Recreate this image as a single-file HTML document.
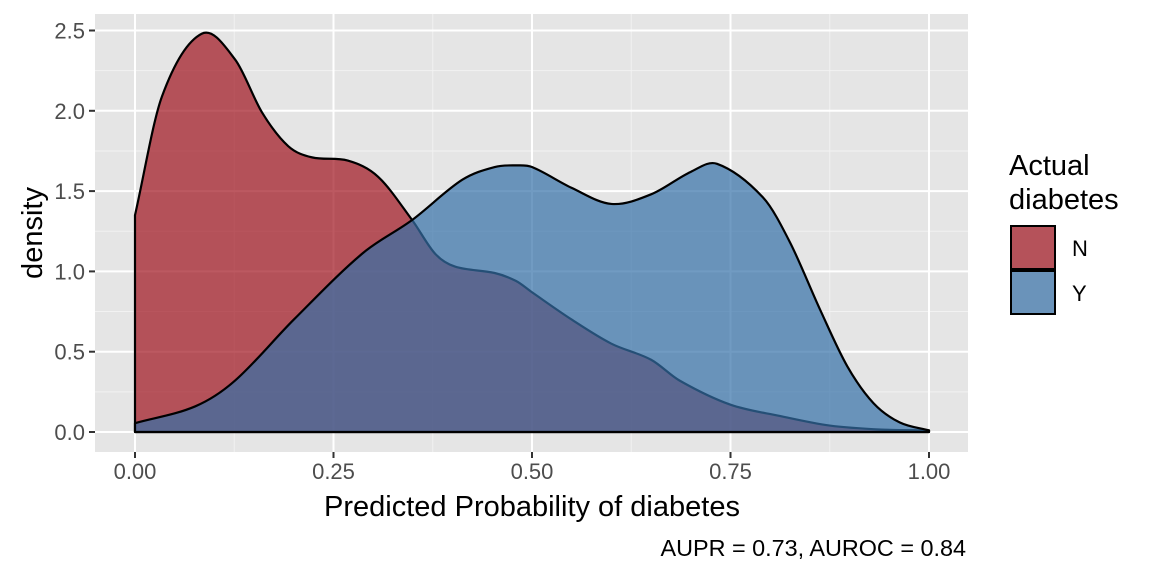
<!DOCTYPE html>
<html><head><meta charset="utf-8"><style>
body{margin:0;background:#fff;}
svg text{font-family:"Liberation Sans",Arial,sans-serif;}
</style></head><body>
<svg id="chart" width="1152" height="576" xmlns="http://www.w3.org/2000/svg">
<rect x="95" y="14" width="873" height="438" fill="#E5E5E5"/>
<g id="grid"></g>
<g id="areas"></g>
<g id="axes"></g>
<text x="532" y="516" font-size="29" text-anchor="middle" fill="#000">Predicted Probability of diabetes</text>
<text transform="translate(42,233) rotate(-90)" font-size="29" text-anchor="middle" fill="#000">density</text>
<text x="966" y="556" font-size="23.4" text-anchor="end" fill="#000">AUPR = 0.73, AUROC = 0.84</text>
<g>
<text x="1009" y="175" font-size="29">Actual</text>
<text x="1009" y="209" font-size="29">diabetes</text>
<rect x="1011" y="226" width="44" height="43" fill="rgb(181,82,90)" stroke="#000" stroke-width="2"/>
<rect x="1011" y="271" width="44" height="43" fill="rgb(106,147,186)" stroke="#000" stroke-width="2"/>
<text x="1072" y="256" font-size="22">N</text>
<text x="1072" y="301" font-size="22">Y</text>
</g>
</svg>
<script>
const xsN = [0,0.034,0.084,0.126,0.16,0.193,0.223,0.268,0.306,0.349,0.378,0.403,0.453,0.48,0.5,0.55,0.6,0.65,0.686,0.75,0.812,0.875,0.94,1.0];
const ysN = [1.35,2.09,2.48,2.32,1.99,1.78,1.71,1.69,1.59,1.32,1.11,1.03,0.99,0.94,0.87,0.7,0.55,0.45,0.32,0.17,0.1,0.04,0.015,0.01];
const xsY = [0,0.076,0.126,0.2,0.286,0.349,0.412,0.453,0.48,0.5,0.55,0.6,0.65,0.7,0.733,0.791,0.825,0.863,0.897,0.93,0.963,1.0];
const ysY = [0.055,0.16,0.32,0.7,1.11,1.32,1.57,1.65,1.66,1.65,1.52,1.42,1.48,1.62,1.67,1.46,1.18,0.76,0.41,0.18,0.06,0.01];
const xTicks = [0,0.25,0.5,0.75,1];
const xTickLabels = ["0.00","0.25","0.50","0.75","1.00"];
const yTicks = [0,0.5,1,1.5,2,2.5];
const yTickLabels = ["0.0","0.5","1.0","1.5","2.0","2.5"];
const X = v => 135 + v*794;
const Y = v => 432 - v*160.6;
const NS = "http://www.w3.org/2000/svg";
function mk(tag, attrs, parent){const e=document.createElementNS(NS,tag);for(const k in attrs)e.setAttribute(k,attrs[k]);parent.appendChild(e);return e;}
const grid=document.getElementById('grid'), areas=document.getElementById('areas'), axes=document.getElementById('axes');
for(let i=0;i<xTicks.length-1;i++){const m=(xTicks[i]+xTicks[i+1])/2;
 const l=mk('line',{x1:X(m),x2:X(m),y1:14,y2:452,stroke:'#F2F2F2','stroke-width':1},grid);
 
 }
for(let i=0;i<yTicks.length-1;i++){const m=(yTicks[i]+yTicks[i+1])/2;
 const l=mk('line',{x1:95,x2:968,y1:Y(m),y2:Y(m),stroke:'#F2F2F2','stroke-width':1},grid);
 
 }
xTicks.forEach((t,i)=>{
 const l=mk('line',{x1:X(t),x2:X(t),y1:14,y2:452,stroke:'#fff','stroke-width':2},grid);
 
 
 const tk=mk('line',{x1:X(t),x2:X(t),y1:452,y2:458,stroke:'#333','stroke-width':2},axes);
 
 
 const tx=mk('text',{x:X(t),y:479,'font-size':22,'text-anchor':'middle',fill:'#4D4D4D'},axes);
 tx.textContent=xTickLabels[i];
 
 });
yTicks.forEach((t,i)=>{
 const l=mk('line',{x1:95,x2:968,y1:Y(t),y2:Y(t),stroke:'#fff','stroke-width':2},grid);
 
 
 const tk=mk('line',{x1:89,x2:95,y1:Y(t),y2:Y(t),stroke:'#333','stroke-width':2},axes);
 
 
 const tx=mk('text',{x:85,y:Y(t)+8,'font-size':22,'text-anchor':'end',fill:'#4D4D4D'},axes);
 tx.textContent=yTickLabels[i];
 
 });
function smooth(xs,ys){
 const n=xs.length, m=[];
 for(let i=0;i<n;i++){
  const a=Math.max(0,i-1), b=Math.min(n-1,i+1);
  m.push((ys[b]-ys[a])/(xs[b]-xs[a]));}
 let d=`M${X(xs[0])},${Y(0)} L${X(xs[0])},${Y(ys[0])}`;
 for(let i=0;i<n-1;i++){
  const h=xs[i+1]-xs[i];
  const c1x=xs[i]+h/3, c1y=ys[i]+m[i]*h/3;
  const c2x=xs[i+1]-h/3, c2y=ys[i+1]-m[i+1]*h/3;
  d+=` C${X(c1x)},${Y(c1y)} ${X(c2x)},${Y(c2y)} ${X(xs[i+1])},${Y(ys[i+1])}`;}
 d+=` L${X(xs[n-1])},${Y(0)} Z`;return d;}
const aN=mk('path',{d:smooth(xsN,ysN),fill:'rgb(160,19,30)','fill-opacity':0.7,stroke:'#000','stroke-width':2.2,'stroke-linejoin':'round'},areas);


const aY=mk('path',{d:smooth(xsY,ysY),fill:'rgb(53,112,168)','fill-opacity':0.7,stroke:'#000','stroke-width':2.2,'stroke-linejoin':'round'},areas);


</script>
</body></html>
